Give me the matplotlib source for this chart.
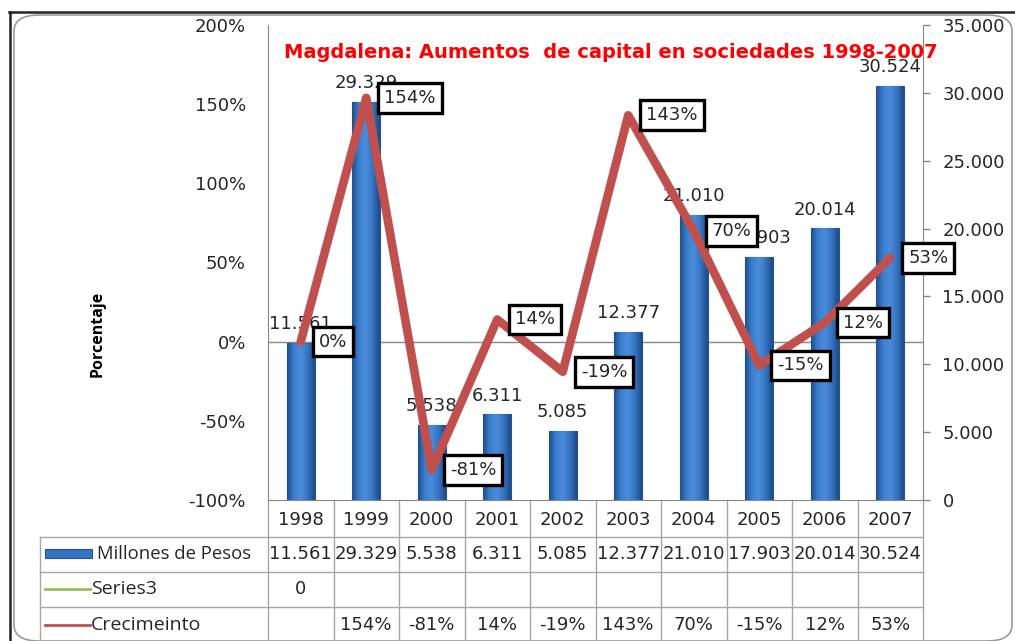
import numpy as np
import matplotlib
matplotlib.use('Agg')
import matplotlib.pyplot as plt
from matplotlib.lines import Line2D
from matplotlib.patches import FancyBboxPatch, Rectangle
from matplotlib.colors import LinearSegmentedColormap
from matplotlib.transforms import blended_transform_factory

plt.rcParams['font.family'] = ['DejaVu Sans']
WORDS = ['Open Sans', 'DejaVu Sans']   # row headers, axis title

# ---- data ----
years = ['1998', '1999', '2000', '2001', '2002', '2003', '2004', '2005', '2006', '2007']
millones = [11561, 29329, 5538, 6311, 5085, 12377, 21010, 17903, 20014, 30524]
series3 = [0, None, None, None, None, None, None, None, None, None]
crecimiento = [None, 154, -81, 14, -19, 143, 70, -15, 12, 53]

RED = '#C0504D'
GRAY = '#868686'
GRID = '#A6A6A6'
TXT = '#262626'
FS = 13


def thousands(v):
    return f'{v:,.0f}'.replace(',', '.')


W, H = 1015, 641
fig = plt.figure(figsize=(W / 100, H / 100), dpi=100, facecolor='white')


def fx(px):
    return px / W


def fy(py):
    return 1 - py / H


# outer chart frame
fig.add_artist(FancyBboxPatch((fx(14), fy(641)), fx(1012) - fx(14), fy(15) - fy(641),
                              boxstyle='round,pad=0,rounding_size=0.025', transform=fig.transFigure,
                              fc='none', ec='#9A9A9A', lw=1.2))
fig.add_artist(Line2D([fx(9), 1], [fy(12), fy(12)], transform=fig.transFigure, color='#222222', lw=1.8))
fig.add_artist(Line2D([fx(10), fx(10)], [fy(12), 0], transform=fig.transFigure, color='#222222', lw=1.8))

ax = fig.add_axes([fx(268), fy(500), fx(923) - fx(268), fy(25) - fy(500)])
ax2 = ax.twinx()
ax.set_zorder(ax2.get_zorder() + 1)
ax.patch.set_visible(False)

x = np.arange(len(years))

# ---- bars (secondary axis) ----
bars = ax2.bar(x, millones, width=0.42, color='#3574C4', edgecolor='#24558F', linewidth=0.8, zorder=2)
cmap = LinearSegmentedColormap.from_list('bev', ['#1F4E8C', '#3C7FD0', '#4A8CDB', '#3573C0', '#1E4A85'])
grad = np.linspace(0, 1, 64).reshape(1, -1)
for b in bars:
    im = ax2.imshow(grad, extent=[b.get_x(), b.get_x() + b.get_width(), 0, b.get_height()],
                    aspect='auto', cmap=cmap, zorder=2.1, interpolation='bilinear')
    im.set_clip_path(b)
for xi, v in zip(x, millones):
    ax2.annotate(thousands(v), (xi, v), xytext=(0, 7), textcoords='offset points',
                 ha='center', va='bottom', fontsize=FS, color=TXT, zorder=3)

ax2.set_xlim(-0.5, len(years) - 0.5)
ax2.set_ylim(0, 35000)
ax2.set_yticks(range(0, 35001, 5000))
ax2.set_yticklabels([thousands(t) for t in range(0, 35001, 5000)])
ax2.tick_params(axis='y', length=5, color=GRAY, width=1, pad=9, labelsize=FS, labelcolor=TXT)
for s in ['top', 'left', 'bottom']:
    ax2.spines[s].set_visible(False)
ax2.spines['right'].set_color(GRAY)

# 0% reference line, drawn behind the bars
ax2.add_line(Line2D([0, 1], [0, 0], transform=blended_transform_factory(ax2.transAxes, ax.transData),
                    color=GRAY, lw=1, zorder=1))

# ---- growth line (primary axis) ----
plot_vals = [0 if v is None else v for v in crecimiento]  # Excel plots blanks as zero
ax.plot(x, plot_vals, color=RED, lw=6.2, solid_joinstyle='round', solid_capstyle='round', zorder=3)
for xi, v in zip(x, plot_vals):
    ax.annotate(f'{v}%', (xi, v), xytext=(18, 0), textcoords='offset pixels',
                ha='left', va='center', fontsize=FS, color=TXT, zorder=5,
                bbox=dict(boxstyle='square,pad=0.32', fc='white', ec='black', lw=2.4))

ax.set_xlim(-0.5, len(years) - 0.5)
ax.set_ylim(-100, 200)
ax.set_yticks(range(-100, 201, 50))
ax.set_yticklabels([f'{t}%' for t in range(-100, 201, 50)])
ax.tick_params(axis='y', length=0, pad=16, labelsize=FS, labelcolor=TXT)
ax.set_xticks(x)
ax.set_xticklabels(years)
ax.tick_params(axis='x', length=0, pad=8, labelsize=FS, labelcolor=TXT)
for s in ['top', 'right']:
    ax.spines[s].set_visible(False)
ax.spines['left'].set_color(GRAY)
ax.spines['bottom'].set_color(GRAY)

# ---- data table under the plot ----
def ay(py):
    return (500 - py) / 475


def axx(px):
    return (px - 268) / 655


bt = ax.get_xaxis_transform()
for b in np.arange(-0.5, len(years), 1.0):
    ax.add_line(Line2D([b, b], [0, ay(641)], transform=bt, color=GRID, lw=1, clip_on=False))
for py in [537, 572, 607]:
    ax.add_line(Line2D([axx(40), 1], [ay(py), ay(py)], transform=ax.transAxes, color=GRID, lw=1, clip_on=False))
ax.add_line(Line2D([axx(40), axx(40)], [ay(537), ay(641)], transform=ax.transAxes, color=GRID, lw=1, clip_on=False))

for xi, v in zip(x, millones):
    ax.text(xi, ay(554), thousands(v), transform=bt, ha='center', va='center', fontsize=FS, color=TXT)
for xi, v in zip(x, series3):
    if v is not None:
        ax.text(xi, ay(589), str(v), transform=bt, ha='center', va='center', fontsize=FS, color=TXT)
for xi, v in zip(x, crecimiento):
    if v is not None:
        ax.text(xi, ay(625), f'{v}%', transform=bt, ha='center', va='center', fontsize=FS, color=TXT)

# legend keys in the first column
ax.add_patch(Rectangle((axx(45), ay(558)), axx(92) - axx(45), ay(549) - ay(558), transform=ax.transAxes,
                       fc='#3574C4', ec='#24558F', lw=0.8, clip_on=False))
ax.add_line(Line2D([axx(45), axx(90)], [ay(589), ay(589)], transform=ax.transAxes,
                   color='#9BBB59', lw=2, clip_on=False))
ax.add_line(Line2D([axx(45), axx(90)], [ay(625), ay(625)], transform=ax.transAxes,
                   color=RED, lw=2, clip_on=False))
ax.text(axx(97), ay(554), 'Millones de Pesos', transform=ax.transAxes, ha='left', va='center',
        fontsize=13.3, color=TXT, family=WORDS)
ax.text(axx(91), ay(589), 'Series3', transform=ax.transAxes, ha='left', va='center',
        fontsize=14, color=TXT, family=WORDS)
ax.text(axx(91), ay(625), 'Crecimeinto', transform=ax.transAxes, ha='left', va='center',
        fontsize=14, color=TXT, family=WORDS)

# ---- titles ----
fig.text(fx(611), fy(52), 'Magdalena: Aumentos  de capital en sociedades 1998-2007',
         ha='center', va='center', fontsize=14, fontweight='bold', color='#FF0000')
fig.text(fx(98), fy(334), 'Porcentaje', rotation=90, ha='center', va='center',
         fontsize=11.5, fontweight='bold', color='black', family=WORDS)

fig.savefig('out.png', dpi=100)
